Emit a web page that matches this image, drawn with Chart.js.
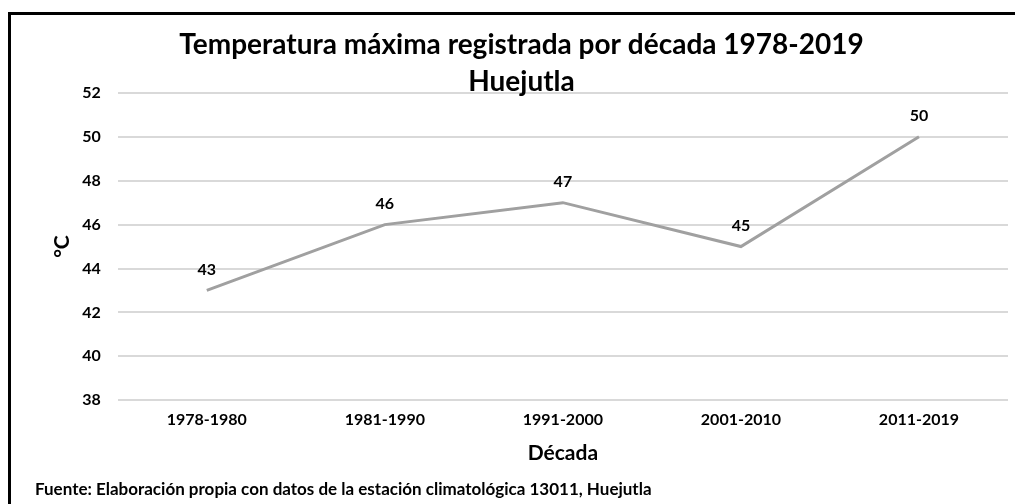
<!DOCTYPE html>
<html>
<head>
<meta charset="utf-8">
<script src="https://cdn.jsdelivr.net/npm/chart.js@4"></script>
<style>
  html, body { margin: 0; padding: 0; background: #fff; overflow: hidden; }
  #box {
    position: absolute; left: 8px; top: 12px;
    width: 1022px; height: 500px;
    border-top: 3px solid #000; border-left: 3px solid #000;
  }
  #wrap { position: absolute; left: 0; top: 0; width: 1022px; height: 489px; }
</style>
</head>
<body>
<div id="box"><div id="wrap"><canvas id="chart"></canvas></div></div>
<script>
const decades = ['1978-1980', '1981-1990', '1991-2000', '2001-2010', '2011-2019'];
const maxTemp = [43, 46, 47, 45, 50];
const yTicks = [38, 40, 42, 44, 46, 48, 50, 52];

const FONT = 'Lato, "Open Sans", sans-serif';

// draw the value above each point
const pointLabels = {
  id: 'pointLabels',
  afterDatasetsDraw(chart) {
    const ctx = chart.ctx;
    const meta = chart.getDatasetMeta(0);
    ctx.save();
    ctx.font = 'bold 16px ' + FONT;
    ctx.fillStyle = '#000';
    ctx.textAlign = 'center';
    ctx.textBaseline = 'middle';
    meta.data.forEach((pt, i) => {
      ctx.fillText(String(maxTemp[i]), pt.x, pt.y - 21);
    });
    ctx.restore();
  }
};

new Chart(document.getElementById('chart'), {
  type: 'line',
  data: {
    labels: decades,
    datasets: [{
      data: maxTemp,
      borderColor: '#a0a0a0',
      borderWidth: 3,
      pointRadius: 0,
      tension: 0,
    }],
  },
  options: {
    responsive: true,
    maintainAspectRatio: false,
    animation: false,
    layout: { padding: { left: 24, right: 25, top: 0, bottom: 0 } },
    plugins: {
      legend: { display: false },
      tooltip: { enabled: false },
      title: {
        display: true,
        text: ['Temperatura máxima registrada por década 1978-2019', 'Huejutla'],
        color: '#000',
        font: { family: FONT, size: 28, weight: 'bold', lineHeight: 1.32 },
        padding: { top: 11.5, bottom: -7.5 },
      },
      subtitle: {
        display: true,
        position: 'bottom',
        align: 'start',
        text: 'Fuente: Elaboración propia con datos de la estación climatológica 13011, Huejutla',
        color: '#000',
        font: { family: FONT, size: 17, weight: 'bold' },
        padding: { top: 14, bottom: 4 },
      },
    },
    scales: {
      x: {
        offset: true,
        grid: { display: false, drawTicks: false },
        border: { display: false },
        ticks: { color: '#000', font: { family: FONT, size: 16, weight: 'bold' }, padding: 10 },
        title: {
          display: true,
          text: 'Década',
          color: '#000',
          font: { family: FONT, size: 21, weight: 'bold' },
          padding: { top: 1, bottom: 0 },
        },
      },
      y: {
        min: 38,
        max: 52,
        afterBuildTicks(axis) { axis.ticks = yTicks.map(v => ({ value: v })); },
        grid: { color: '#d9d9d9', lineWidth: 2, drawTicks: false },
        border: { display: false },
        ticks: { color: '#000', font: { family: FONT, size: 16, weight: 'bold' }, padding: 17 },
        title: {
          display: true,
          text: '°C',
          color: '#000',
          font: { family: FONT, size: 21, weight: 'bold' },
          padding: { top: 15, bottom: -10 },
        },
      },
    },
  },
  plugins: [pointLabels],
});
</script>
</body>
</html>
